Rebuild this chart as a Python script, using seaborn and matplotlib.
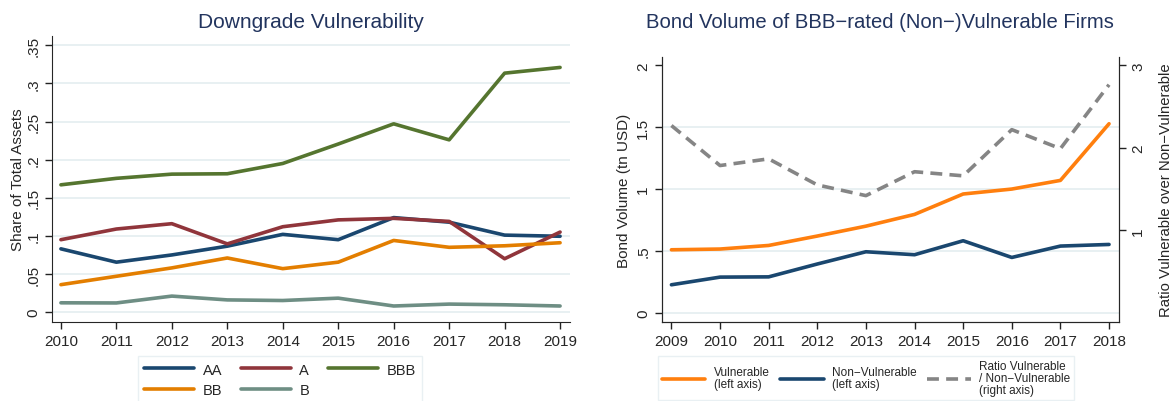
import numpy as np
import pandas as pd
import matplotlib
matplotlib.use("Agg")
import matplotlib.pyplot as plt
import seaborn as sns

# left panel: share of total assets by rating
years_l = [2010, 2011, 2012, 2013, 2014, 2015, 2016, 2017, 2018, 2019]
aa  = [0.083, 0.0655, 0.075, 0.0865, 0.102, 0.095, 0.124, 0.118, 0.101, 0.0995]
a   = [0.095, 0.109, 0.116, 0.0895, 0.112, 0.121, 0.123, 0.119, 0.070, 0.105]
bbb = [0.167, 0.1755, 0.181, 0.1815, 0.195, 0.2205, 0.247, 0.226, 0.3135, 0.321]
bb  = [0.036, 0.047, 0.058, 0.071, 0.057, 0.0655, 0.094, 0.085, 0.087, 0.091]
b   = [0.0122, 0.012, 0.021, 0.016, 0.0152, 0.0183, 0.008, 0.0105, 0.0096, 0.008]

# right panel: bond volume (tn USD) and ratio
years_r = [2009, 2010, 2011, 2012, 2013, 2014, 2015, 2016, 2017, 2018]
vulnerable     = [0.509, 0.515, 0.544, 0.62, 0.70, 0.795, 0.96, 1.0, 1.07, 1.528]
non_vulnerable = [0.226, 0.288, 0.29, 0.394, 0.493, 0.469, 0.582, 0.447, 0.539, 0.552]
ratio          = [2.27, 1.785, 1.866, 1.55, 1.42, 1.71, 1.66, 2.22, 1.99, 2.765]

left_yticks = [0, .05, .1, .15, .2, .25, .3, .35]
right_yticks = [0, .5, 1, 1.5, 2]
ratio_ticks = [1, 2, 3]

sns.set_style("ticks")
plt.rcParams['font.family'] = ['Liberation Sans', 'DejaVu Sans']

navy = '#1a476f'
maroon = '#90353b'
green = '#55752f'
dkorange = '#e37e00'
teal = '#6e8e84'
grid_c = '#e4edf0'
title_c = '#22345e'

fig = plt.figure(figsize=(11.72, 4.02), dpi=100)
ax1 = fig.add_axes([0.0444, 0.1965, 0.442, 0.711])
ax2 = fig.add_axes([0.565, 0.1965, 0.390, 0.659])

def fmt(v):
    s = ('%g' % v)
    return s[1:] if s.startswith('0.') else s

tick_fs = 11
lw = 2.6

# ---- left panel
for y in left_yticks:
    ax1.axhline(y, color=grid_c, lw=1.2, zorder=0)
for vals, col, lab in [(aa, navy, 'AA'), (a, maroon, 'A'), (bbb, green, 'BBB'),
                       (bb, dkorange, 'BB'), (b, teal, 'B')]:
    sns.lineplot(x=years_l, y=vals, color=col, lw=lw, label=lab, ax=ax1)
ax1.set_xlim(2009.84, 2019.18)
ax1.set_ylim(-0.013, 0.362)
ax1.set_xticks(years_l)
ax1.set_yticks(left_yticks)
ax1.set_yticklabels([fmt(v) for v in left_yticks], rotation=90, va='center')
ax1.tick_params(labelsize=tick_fs, length=5, width=1, color='#222222')
ax1.set_ylabel('Share of Total Assets', fontsize=11, labelpad=1)
ax1.set_xlabel('')
fig.text(310.5 / 1172, 1 - 22 / 402, 'Downgrade Vulnerability', fontsize=15,
         color=title_c, ha='center', va='center')
for s in ['top', 'right']:
    ax1.spines[s].set_visible(False)
h, l = ax1.get_legend_handles_labels()
order = [0, 3, 1, 4, 2]
ax1.get_legend().remove()
fig.legend([h[i] for i in order], [l[i] for i in order], ncol=3,
           loc='upper center', bbox_to_anchor=(280 / 1172, 1 - 357 / 402),
           borderaxespad=0, fontsize=10.5, frameon=True, edgecolor=grid_c,
           fancybox=False, handlelength=3.4, handletextpad=0.6,
           columnspacing=1.3, borderpad=0.45, labelspacing=0.45)

# ---- right panel
for y in right_yticks[:-1]:
    ax2.axhline(y, color=grid_c, lw=1.2, zorder=0)
sns.lineplot(x=years_r, y=vulnerable, color='#ff7f0e', lw=lw,
             label='Vulnerable\n(left axis)', ax=ax2)
sns.lineplot(x=years_r, y=non_vulnerable, color=navy, lw=lw,
             label='Non\u2212Vulnerable\n(left axis)', ax=ax2)
ax3 = ax2.twinx()
sns.lineplot(x=years_r, y=ratio, color='#858585', lw=lw, ls=(0, (3.3, 2)),
             label='Ratio Vulnerable\n/ Non\u2212Vulnerable\n(right axis)', ax=ax3)
ax2.set_xlim(2008.81, 2018.21)
ax2.set_ylim(-0.075, 2.067)
ax3.set_ylim(-0.1125, 3.1)
ax2.set_xticks(years_r)
ax2.set_yticks(right_yticks)
ax2.set_yticklabels([fmt(v) for v in right_yticks], rotation=90, va='center')
ax3.set_yticks(ratio_ticks)
ax3.set_yticklabels([str(v) for v in ratio_ticks], rotation=90, va='center')
for ax in (ax2, ax3):
    ax.tick_params(labelsize=tick_fs, length=5, width=1, color='#222222')
    ax.spines['top'].set_visible(False)
ax2.set_ylabel('Bond Volume (tn USD)', fontsize=11)
ax3.set_ylabel('Ratio Vulnerable over Non\u2212Vulnerable', fontsize=10.7, labelpad=10)
ax2.set_xlabel('')
fig.text(880 / 1172, 1 - 22 / 402,
         'Bond Volume of BBB\u2212rated (Non\u2212)Vulnerable Firms',
         fontsize=14.6, color=title_c, ha='center', va='center')
h2, l2 = ax2.get_legend_handles_labels()
h3, l3 = ax3.get_legend_handles_labels()
ax2.get_legend().remove()
ax3.get_legend().remove()
leg = fig.legend(h2 + h3, l2 + l3, ncol=3, loc='upper center',
                 bbox_to_anchor=(866 / 1172, 1 - 357 / 402), borderaxespad=0,
                 fontsize=8.5, frameon=True, edgecolor=grid_c, fancybox=False,
                 handlelength=3.7, handletextpad=0.7, columnspacing=0.9,
                 borderpad=0.35)
for t in leg.get_texts():
    t.set_linespacing(1.0)

fig.savefig('out.png', dpi=100)
